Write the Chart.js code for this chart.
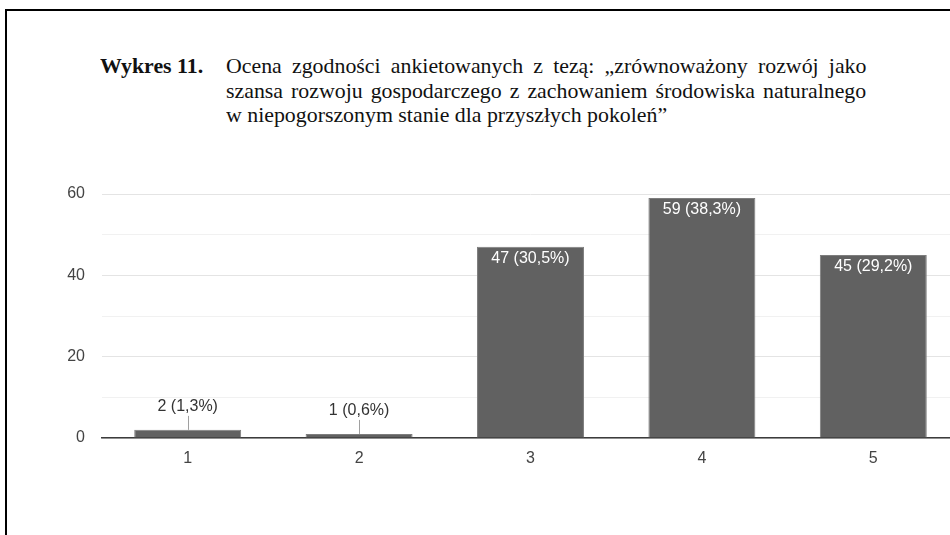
<!DOCTYPE html>
<html>
<head>
<meta charset="utf-8">
<script src="https://cdn.jsdelivr.net/npm/chart.js@4.4.1/dist/chart.umd.min.js"></script>
<style>
  html, body { margin: 0; padding: 0; background: #fff; overflow: hidden; width: 950px; height: 535px; }
  #frame { position: absolute; left: 5px; top: 9px; width: 1000px; height: 600px; border-left: 2px solid #000; border-top: 2px solid #000; }
  #wrap { position: absolute; left: 0; top: 0; width: 960px; height: 535px; }
  .tl { position: absolute; white-space: nowrap; font-family: "Liberation Serif", "Times New Roman", serif; font-size: 22px; color: #111; transform-origin: 0 0; line-height: 24.5px; }
  .tl.b { font-weight: bold; }
</style>
</head>
<body>
<div id="frame"></div>
<div id="title"></div>
<div id="wrap"><canvas id="chart" width="960" height="535"></canvas></div>
<script>
// chart data
var categories = ['1', '2', '3', '4', '5'];
var counts = [2, 1, 47, 59, 45];
var percents = ['1,3', '0,6', '30,5', '38,3', '29,2'];
var yTicks = [0, 20, 40, 60];

var titleLabel = 'Wykres 11.';
var titleLines = [
  'Ocena zgodności ankietowanych z tezą: „zrównoważony rozwój jako',
  'szansa rozwoju gospodarczego z zachowaniem środowiska naturalnego',
  'w niepogorszonym stanie dla przyszłych pokoleń”'
];

// title block (justified like the source document)
function buildTitle() {
  var box = document.getElementById('title');
  var tops = [54, 78.5, 103];
  var divs = titleLines.map(function(t, i) {
    var d = document.createElement('div');
    d.className = 'tl';
    d.textContent = t;
    d.style.left = '226px';
    d.style.top = tops[i] + 'px';
    box.appendChild(d);
    return d;
  });
  var s = 441 / divs[2].offsetWidth;
  divs.forEach(function(d, i) {
    if (i < 2) {
      var spaces = titleLines[i].split(' ').length - 1;
      var extra = 640 / s - d.offsetWidth;
      d.style.wordSpacing = (extra / spaces) + 'px';
    }
    d.style.transform = 'scaleX(' + s + ')';
  });
  var lab = document.createElement('div');
  lab.className = 'tl b';
  lab.textContent = titleLabel;
  lab.style.left = '100px';
  lab.style.top = tops[0] + 'px';
  lab.style.transform = 'scaleX(' + s + ')';
  box.appendChild(lab);
}
buildTitle();

var barLabels = {
  id: 'barLabels',
  afterDatasetsDraw: function(chart) {
    var ctx = chart.ctx;
    var meta = chart.getDatasetMeta(0);
    ctx.save();
    ctx.font = '16px "Liberation Sans", Arial, sans-serif';
    ctx.textAlign = 'center';
    ctx.textBaseline = 'middle';
    meta.data.forEach(function(bar, i) {
      var txt = counts[i] + ' (' + percents[i] + '%)';
      if (bar.base - bar.y > 30) {
        ctx.fillStyle = '#ffffff';
        ctx.fillText(txt, bar.x, bar.y + 12);
      } else {
        ctx.strokeStyle = '#a0a0a0';
        ctx.lineWidth = 1;
        ctx.beginPath();
        ctx.moveTo(Math.round(bar.x) + 0.5, bar.y);
        ctx.lineTo(Math.round(bar.x) + 0.5, bar.y - 14);
        ctx.stroke();
        ctx.fillStyle = '#333333';
        ctx.fillText(txt, bar.x, bar.y - 23);
      }
    });
    ctx.restore();
  }
};

new Chart(document.getElementById('chart'), {
  type: 'bar',
  data: {
    labels: categories,
    datasets: [{
      data: counts,
      backgroundColor: '#616161',
      borderColor: '#7d7d7d',
      borderWidth: 1,
      barPercentage: 0.624,
      categoryPercentage: 1
    }]
  },
  options: {
    responsive: false,
    animation: false,
    devicePixelRatio: 1,
    layout: { padding: { top: 194, right: 1, left: 0, bottom: 0 } },
    plugins: { legend: { display: false }, tooltip: { enabled: false }, title: { display: false } },
    scales: {
      x: {
        grid: { display: false, drawTicks: false },
        border: { display: true, color: '#3c3c3c', width: 1.5 },
        ticks: { color: '#444', padding: 11, font: { family: '"Liberation Sans", Arial, sans-serif', size: 16 } },
        afterFit: function(s) { s.height = 97; }
      },
      y: {
        min: 0,
        max: 60,
        border: { display: false },
        grid: {
          drawTicks: false,
          color: function(c) { return yTicks.indexOf(c.tick.value) >= 0 ? '#e4e4e4' : '#f1f1f1'; }
        },
        ticks: {
          stepSize: 10,
          padding: 17,
          color: '#444',
          font: { family: '"Liberation Sans", Arial, sans-serif', size: 16 },
          callback: function(v) { return yTicks.indexOf(v) >= 0 ? v : ''; }
        },
        afterFit: function(s) { s.width = 102; }
      }
    }
  },
  plugins: [barLabels]
});
</script>
</body>
</html>
